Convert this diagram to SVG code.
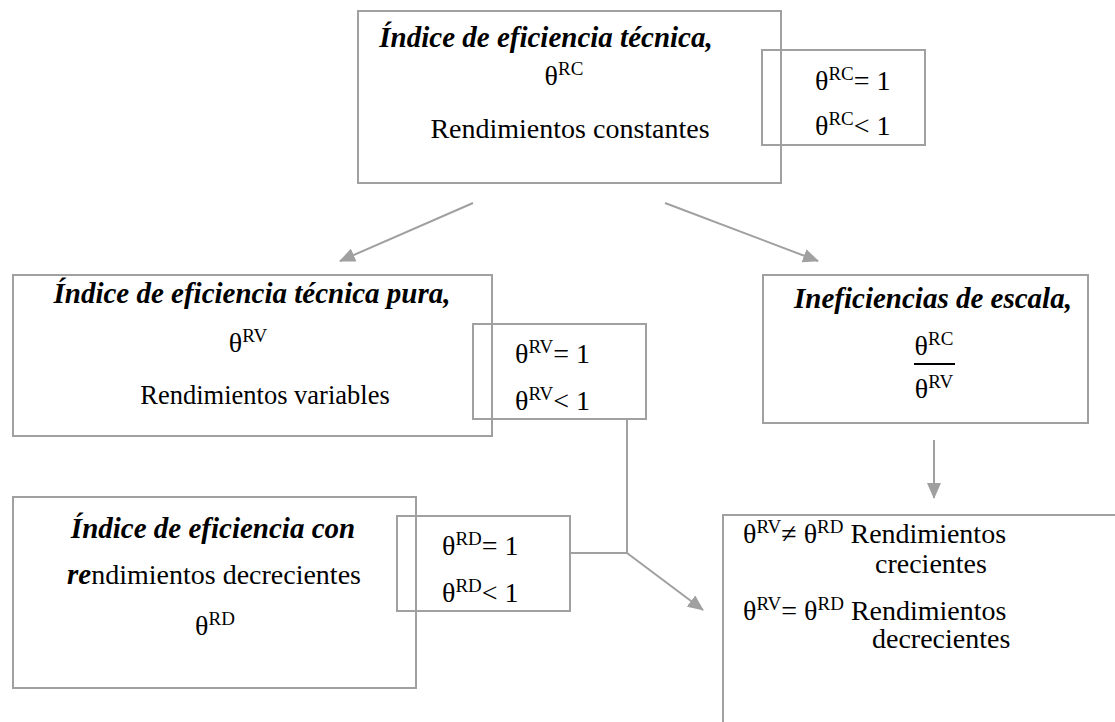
<svg xmlns="http://www.w3.org/2000/svg" width="1115" height="722" viewBox="0 0 1115 722">
<style>
.box{fill:none;stroke:#a0a0a0;stroke-width:2}
.ln{fill:none;stroke:#a0a0a0;stroke-width:2}
text{font-family:"Liberation Serif","Times New Roman",serif;fill:#000}
.t{font-size:29px;font-weight:bold;font-style:italic}
.b{font-size:28px}
.m{text-anchor:middle}
.s{font-size:19px}
</style>
<defs>
<marker id="ah" markerUnits="userSpaceOnUse" markerWidth="16" markerHeight="14" refX="15" refY="7" orient="auto">
<path d="M0,0 L16,7 L0,14 z" fill="#a0a0a0"/>
</marker>
</defs>
<rect width="1115" height="722" fill="#fff"/>
<g id="connectors">
<line class="ln" x1="473" y1="203" x2="340" y2="261" marker-end="url(#ah)"/>
<line class="ln" x1="665" y1="203" x2="818" y2="261" marker-end="url(#ah)"/>
<line class="ln" x1="934" y1="440" x2="934" y2="498" marker-end="url(#ah)"/>
<polyline class="ln" points="627,419 627,553 570,553"/>
<line class="ln" x1="627" y1="553" x2="703" y2="610" marker-end="url(#ah)"/>
</g>
<g id="n-rc">
<rect class="box" x="358" y="11" width="423" height="172"/>
<text class="t m" x="546" y="47">Índice de eficiencia técnica,</text>
<text class="b m" x="564" y="85">θ<tspan class="s" dy="-10">RC</tspan></text>
<text class="b m" x="570" y="138">Rendimientos constantes</text>
</g>
<g id="n-rc-cond">
<rect class="box" x="762" y="50" width="163" height="95"/>
<text class="b" x="815" y="90">θ<tspan class="s" dy="-10">RC</tspan><tspan dy="10">= 1</tspan></text>
<text class="b" x="815" y="135">θ<tspan class="s" dy="-10">RC</tspan><tspan dy="10">&lt; 1</tspan></text>
</g>
<g id="n-rv">
<rect class="box" x="13" y="275" width="479" height="161"/>
<text class="t m" x="252" y="303">Índice de eficiencia técnica pura,</text>
<text class="b m" x="248" y="352">θ<tspan class="s" dy="-10">RV</tspan></text>
<text class="b m" x="265" y="404" style="font-size:26.5px">Rendimientos variables</text>
</g>
<g id="n-rv-cond">
<rect class="box" x="473" y="324" width="173" height="95"/>
<text class="b" x="515" y="363">θ<tspan class="s" dy="-10">RV</tspan><tspan dy="10">= 1</tspan></text>
<text class="b" x="515" y="410">θ<tspan class="s" dy="-10">RV</tspan><tspan dy="10">&lt; 1</tspan></text>
</g>
<g id="n-escala">
<rect class="box" x="763" y="275" width="325" height="148"/>
<text class="t m" x="933" y="308">Ineficiencias de escala,</text>
<text class="b m" x="934" y="355">θ<tspan class="s" dy="-10">RC</tspan></text>
<line x1="914" y1="364" x2="955" y2="364" stroke="#000" stroke-width="2"/>
<text class="b m" x="934" y="398">θ<tspan class="s" dy="-10">RV</tspan></text>
</g>
<g id="n-rd">
<rect class="box" x="13" y="497" width="403" height="191"/>
<text class="t m" x="213" y="538">Índice de eficiencia con</text>
<text class="b m" x="214" y="584"><tspan class="t">re</tspan>ndimientos decrecientes</text>
<text class="b m" x="215" y="635">θ<tspan class="s" dy="-10">RD</tspan></text>
</g>
<g id="n-rd-cond">
<rect class="box" x="397" y="516" width="173" height="95"/>
<text class="b" x="442" y="555">θ<tspan class="s" dy="-10">RD</tspan><tspan dy="10">= 1</tspan></text>
<text class="b" x="442" y="602">θ<tspan class="s" dy="-10">RD</tspan><tspan dy="10">&lt; 1</tspan></text>
</g>
<g id="n-result">
<rect class="box" x="723" y="515" width="420" height="250"/>
<text class="b" x="743" y="543">θ<tspan class="s" dy="-10">RV</tspan><tspan dy="10">≠ θ</tspan><tspan class="s" dy="-10">RD</tspan><tspan dy="10"> Rendimientos</tspan></text>
<text class="b" x="875" y="573">crecientes</text>
<text class="b" x="743" y="620">θ<tspan class="s" dy="-10">RV</tspan><tspan dy="10">= θ</tspan><tspan class="s" dy="-10">RD</tspan><tspan dy="10"> Rendimientos</tspan></text>
<text class="b" x="872" y="648">decrecientes</text>
</g>
</svg>
